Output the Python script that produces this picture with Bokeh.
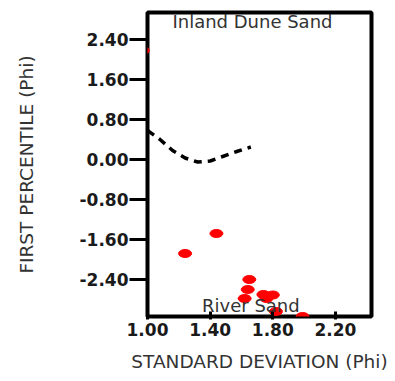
from bokeh.plotting import figure
from bokeh.models import FixedTicker, Range1d, Label, NumeralTickFormatter
from bokeh.embed import file_html
from bokeh.resources import INLINE

# Data
river_sd = [0.97, 1.44, 1.24, 1.65, 1.64, 1.62, 1.74, 1.80, 1.76, 1.82, 1.99]
river_p1 = [2.18, -1.48, -1.88, -2.40, -2.60, -2.78, -2.70, -2.71, -2.78, -3.04, -3.14]

dune_sd = [1.00, 1.08, 1.16, 1.24, 1.32, 1.40, 1.48, 1.57, 1.66]
dune_p1 = [0.58, 0.40, 0.18, 0.03, -0.05, -0.03, 0.06, 0.16, 0.25]

x_ticks = [1.0, 1.4, 1.8, 2.2]
y_ticks = [-2.4, -1.6, -0.8, 0.0, 0.8, 1.6, 2.4]

p = figure(width=395, height=378, output_backend="svg", toolbar_location=None,
           x_range=Range1d(1.0, 2.43), y_range=Range1d(-3.14, 2.94),
           min_border_left=147, min_border_right=24, min_border_top=12, min_border_bottom=62)

p.grid.visible = False
p.outline_line_color = "black"
p.outline_line_width = 4
p.background_fill_color = "white"
p.border_fill_color = "white"

for ax in (p.xaxis[0], p.yaxis[0]):
    ax.axis_line_color = None
    ax.major_tick_line_color = "black"
    ax.major_tick_line_width = 3
    ax.minor_tick_line_color = None
    ax.major_label_text_font = "DejaVu Sans"
    ax.major_label_text_font_style = "bold"
    ax.major_label_text_font_size = "17px"
    ax.major_label_text_color = "#1a1a1a"
    ax.axis_label_text_font = "DejaVu Sans"
    ax.axis_label_text_font_style = "normal"
    ax.axis_label_text_font_size = "18.5px"
    ax.axis_label_text_color = "#333333"
    ax.formatter = NumeralTickFormatter(format="0.00")

p.xaxis.ticker = FixedTicker(ticks=x_ticks)
p.yaxis.ticker = FixedTicker(ticks=y_ticks)
p.xaxis.major_tick_in = 5
p.xaxis.major_tick_out = 3
p.xaxis.major_label_standoff = 3
p.yaxis.major_tick_in = 0
p.yaxis.major_tick_out = 18
p.yaxis.major_label_standoff = 1

p.xaxis.axis_label = "STANDARD DEVIATION (Phi)"
p.yaxis.axis_label = "FIRST PERCENTILE (Phi)"
p.xaxis.axis_label_standoff = 12
p.yaxis.axis_label_standoff = 40

p.line(dune_sd, dune_p1, line_color="black", line_width=3.5, line_dash="8 6")
p.ellipse(river_sd, river_p1, width=13, height=8, width_units="screen", height_units="screen",
          fill_color="red", line_color="red")

p.add_layout(Label(x=1.67, y=2.76, text="Inland Dune Sand", text_align="center", text_baseline="middle",
                   text_font="DejaVu Sans", text_font_size="18px", text_color="#333333"))
p.add_layout(Label(x=1.66, y=-2.92, text="River Sand", text_align="center", text_baseline="middle",
                   text_font="DejaVu Sans", text_font_size="18px", text_color="#333333"))

open("out.html", "w").write(file_html(p, INLINE))
